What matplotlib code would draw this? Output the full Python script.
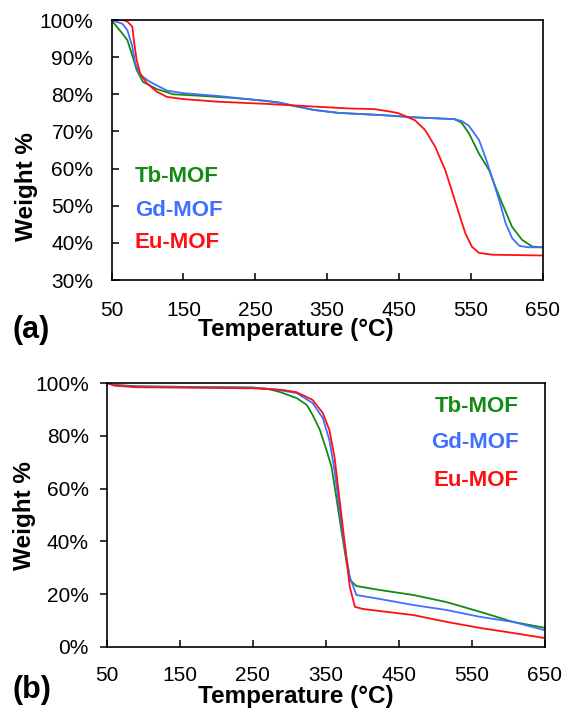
import matplotlib
matplotlib.use("Agg")
import matplotlib.pyplot as plt
from matplotlib.ticker import FuncFormatter

plt.rcParams['font.family'] = ['Liberation Sans', 'DejaVu Sans']

# ---- Panel (a) data ----
tb_a_T = [50, 56, 65, 72, 81, 85, 94, 113, 136, 173, 220, 267, 285, 300, 331, 365, 425, 471, 527, 537, 547, 561, 575, 584, 593, 607, 621, 635, 650]
tb_a_W = [100, 98.5, 96.4, 94.6, 89.2, 86.5, 83.3, 81.4, 80, 79.6, 79, 78.2, 77.7, 77, 75.8, 75, 74.4, 73.8, 73.3, 72.3, 69.5, 64, 59.6, 55, 50.7, 44.3, 40.8, 39, 38.8]

gd_a_T = [50, 65, 72, 79, 83, 90, 103, 127, 150, 200, 250, 285, 331, 365, 425, 471, 527, 537, 547, 561, 570, 579, 589, 598, 607, 617, 630, 650]
gd_a_W = [100, 99, 97.3, 92.8, 88.3, 85.2, 83.4, 81, 80.3, 79.5, 78.5, 77.7, 75.8, 75, 74.4, 73.8, 73.3, 72.8, 71.5, 67.7, 63, 57.7, 51.5, 45.3, 41.3, 39.2, 38.8, 38.8]

eu_a_T = [50, 65, 72, 79, 81, 85, 90, 99, 113, 127, 150, 198, 267, 331, 379, 416, 439, 449, 472, 486, 500, 514, 523, 533, 542, 551, 561, 580, 650]
eu_a_W = [100, 100, 99.6, 98.2, 94.6, 89.2, 85.6, 83, 80.7, 79.3, 78.7, 78, 77.4, 76.7, 76.2, 76, 75.3, 74.9, 73, 70.4, 65.9, 59.6, 54.2, 48, 42.6, 39, 37.3, 36.8, 36.6]

# ---- Panel (b) data ----
tb_b_T = [50, 60, 90, 170, 250, 270, 287, 310, 324, 332, 342, 351, 358, 365, 372, 378, 383, 392, 424, 470, 516, 562, 607, 650]
tb_b_W = [100, 99.3, 98.8, 98.5, 98.3, 97.8, 96.6, 94.3, 91.7, 87.9, 82.2, 74.6, 68.2, 55.7, 43.2, 33, 25.4, 23.1, 21.6, 19.7, 17, 13.3, 9.5, 7.3]

gd_b_T = [50, 60, 90, 170, 250, 280, 310, 332, 346, 355, 362, 369, 376, 383, 392, 424, 470, 516, 562, 607, 650]
gd_b_W = [100, 99.2, 98.6, 98.4, 98.2, 97.6, 96.2, 92.4, 86.7, 78.4, 67, 51.9, 37.9, 26.5, 19.7, 18.2, 15.9, 14, 11.4, 9.5, 6.4]

eu_b_T = [50, 60, 90, 170, 250, 290, 310, 332, 346, 355, 362, 369, 376, 383, 390, 401, 470, 516, 562, 607, 650]
eu_b_W = [100, 99, 98.4, 98.2, 98, 97.4, 96.5, 93.6, 88.6, 82.2, 72, 55.7, 39.4, 22.7, 15.2, 14.4, 12.1, 9.5, 7.2, 5.3, 3.4]

series_names = ["Tb-MOF", "Gd-MOF", "Eu-MOF"]
colors = ["#138a13", "#3f6fff", "#ff1010"]
x_ticks = [50, 150, 250, 350, 450, 550, 650]
y_ticks_a = [30, 40, 50, 60, 70, 80, 90, 100]
y_ticks_b = [0, 20, 40, 60, 80, 100]

W, H = 563, 709
fig = plt.figure(figsize=(W / 100, H / 100), dpi=100)

def fx(px):
    return px / W

def fy(py):
    return 1 - py / H

pct = FuncFormatter(lambda v, p: f"{int(v)}%")

# Panel (a)
axa = fig.add_axes([fx(111.5), fy(280), fx(543) - fx(111.5), fy(20) - fy(280)])
for T, Wt, c in zip([tb_a_T, gd_a_T, eu_a_T], [tb_a_W, gd_a_W, eu_a_W], colors):
    axa.plot(T, Wt, color=c, lw=1.3)
axa.set_xlim(50, 650)
axa.set_ylim(30, 100)
axa.set_xticks(x_ticks)
axa.set_yticks(y_ticks_a)
axa.yaxis.set_major_formatter(pct)
axa.tick_params(axis='x', direction='in', length=5, width=1.1, pad=15, labelsize=15)
axa.tick_params(axis='y', direction='in', length=5, width=1.1, pad=13, labelsize=15)
for s in axa.spines.values():
    s.set_linewidth(1.2)

# Panel (b)
axb = fig.add_axes([fx(107), fy(647), fx(544.5) - fx(107), fy(383) - fy(647)])
for T, Wt, c in zip([tb_b_T, gd_b_T, eu_b_T], [tb_b_W, gd_b_W, eu_b_W], colors):
    axb.plot(T, Wt, color=c, lw=1.3)
axb.set_xlim(50, 650)
axb.set_ylim(0, 100)
axb.set_xticks(x_ticks)
axb.set_yticks(y_ticks_b)
axb.yaxis.set_major_formatter(pct)
axb.tick_params(axis='x', direction='in', length=5, width=1.1, pad=14, labelsize=15)
axb.tick_params(axis='y', direction='out', length=5, width=1.1, pad=8, labelsize=15)
for s in axb.spines.values():
    s.set_linewidth(1.2)

# Axis labels and panel letters
lab = dict(fontsize=17.5, fontweight='bold')
fig.text(fx(296), fy(330), "Temperature (°C)", ha='center', va='center', **lab)
fig.text(fx(296), fy(697), "Temperature (°C)", ha='center', va='center', **lab)
fig.text(fx(27), fy(187), "Weight %", ha='center', va='center', rotation=90, **lab)
fig.text(fx(25), fy(516), "Weight %", ha='center', va='center', rotation=90, **lab)
fig.text(fx(12), fy(330), "(a)", ha='left', va='center', fontsize=22, fontweight='bold')
fig.text(fx(12), fy(690), "(b)", ha='left', va='center', fontsize=22, fontweight='bold')

# In-plot series labels
for name, c, py in zip(series_names, colors, [176, 210, 242]):
    fig.text(fx(135), fy(py), name, color=c, ha='left', va='center', fontsize=16, fontweight='bold')
for name, c, py in zip(series_names, colors, [407, 443, 480]):
    fig.text(fx(519), fy(py), name, color=c, ha='right', va='center', fontsize=16, fontweight='bold')

fig.savefig("out.png", dpi=100)
